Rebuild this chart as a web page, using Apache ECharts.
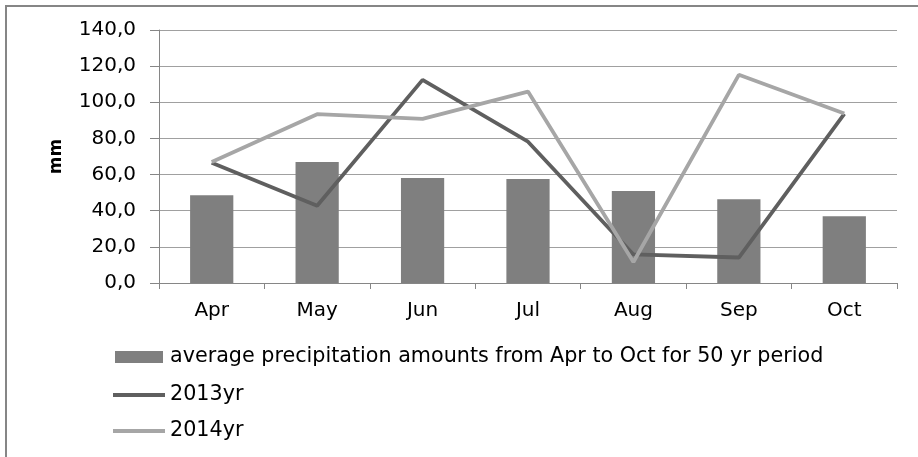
<!DOCTYPE html>
<html>
<head>
<meta charset="utf-8">
<script src="https://cdn.jsdelivr.net/npm/echarts@6/dist/echarts.min.js"></script>
<style>html,body{margin:0;padding:0;background:#fff}#c{width:918px;height:457px}</style>
</head>
<body>
<div id="c"></div>
<script>
var months = ['Apr','May','Jun','Jul','Aug','Sep','Oct'];
var avgName = 'average precipitation amounts from Apr to Oct for 50 yr period';
var avg50 = [48.6, 66.9, 58.1, 57.5, 50.9, 46.4, 37.0];
var y2013 = [66.5, 42.7, 112.4, 78.2, 15.8, 14.1, 93.6];
var y2014 = [67.0, 93.4, 90.8, 105.9, 11.6, 115.2, 93.8];
var yTicks = {min: 0, max: 140, interval: 20};

var FONT = 'DejaVu Sans';
var legendText = {fontSize: 20.7, lineHeight: 22, color: '#000', fontFamily: FONT};
var chart = echarts.init(document.getElementById('c'));
chart.setOption({
  animation: false,
  textStyle: {fontFamily: FONT},
  graphic: [{
    type: 'rect', shape: {x: 6, y: 6, width: 1000, height: 1000},
    style: {fill: 'none', stroke: '#868686', lineWidth: 2}, z: -1
  }],
  grid: {left: 159, right: 21, top: 30, bottom: 174},
  legend: [
    {left: 115, top: 346, padding: 0, itemWidth: 48, itemHeight: 12, icon: 'rect',
     textStyle: Object.assign({padding: [0, 0, 0, 2]}, legendText),
     data: [avgName]},
    {left: 113, top: 384, padding: 0, itemWidth: 52, itemHeight: 4, icon: 'rect',
     textStyle: legendText, data: ['2013yr']},
    {left: 113, top: 420, padding: 0, itemWidth: 52, itemHeight: 4, icon: 'rect',
     textStyle: legendText, data: ['2014yr']}
  ],
  xAxis: {
    type: 'category', data: months,
    axisLine: {lineStyle: {color: '#868686', width: 1}},
    axisTick: {show: true, length: 6, lineStyle: {color: '#868686'}},
    axisLabel: {fontSize: 20, color: '#000', margin: 18}
  },
  yAxis: {
    type: 'value', min: yTicks.min, max: yTicks.max, interval: yTicks.interval,
    name: 'mm', nameLocation: 'middle', nameGap: 94, nameRotate: 90,
    nameTextStyle: {fontSize: 17, fontWeight: 'bold', color: '#000'},
    axisLine: {show: true, lineStyle: {color: '#868686'}},
    axisTick: {show: true, length: 9, lineStyle: {color: '#868686'}},
    axisLabel: {fontSize: 20, color: '#000', margin: 23,
      formatter: function (v) { return v.toFixed(1).replace('.', ','); }},
    splitLine: {lineStyle: {color: '#a0a0a0', width: 1}}
  },
  series: [
    {name: avgName, type: 'bar', data: avg50, barWidth: '41%',
     itemStyle: {color: '#7f7f7f'}},
    {name: '2013yr', type: 'line', data: y2013, showSymbol: false, symbol: 'none',
     lineStyle: {color: '#5f5f5f', width: 3.8}, itemStyle: {color: '#5f5f5f'}},
    {name: '2014yr', type: 'line', data: y2014, showSymbol: false, symbol: 'none',
     lineStyle: {color: '#a6a6a6', width: 3.8}, itemStyle: {color: '#a6a6a6'}}
  ]
});
</script>
</body>
</html>
